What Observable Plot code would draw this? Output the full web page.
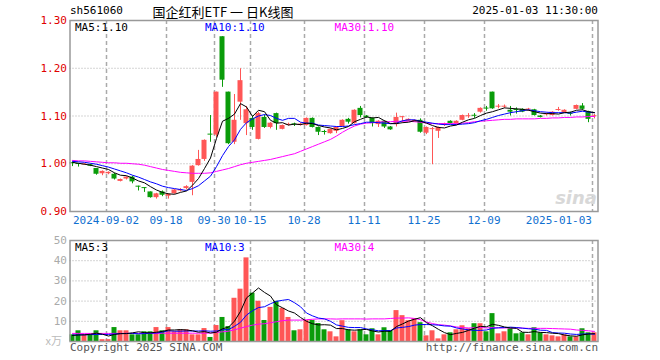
<!DOCTYPE html>
<html><head><meta charset="utf-8">
<script src="https://cdn.jsdelivr.net/npm/d3@7"></script>
<script src="https://cdn.jsdelivr.net/npm/@observablehq/plot@0.6"></script>
<style>
body{margin:0;background:#fff;}
#chart{position:relative;width:660px;height:360px;overflow:hidden;}
#chart svg{position:absolute;left:0;}
</style></head><body><div id="chart"></div>
<script>
// trading days (2024-08-23 .. 2025-01-03)
const dates = ["2024-08-23","2024-08-26","2024-08-27","2024-08-28","2024-08-29","2024-08-30",
"2024-09-02","2024-09-03","2024-09-04","2024-09-05","2024-09-06","2024-09-09","2024-09-10","2024-09-11","2024-09-12","2024-09-13",
"2024-09-18","2024-09-19","2024-09-20","2024-09-23","2024-09-24","2024-09-25","2024-09-26","2024-09-27","2024-09-30",
"2024-10-08","2024-10-09","2024-10-10","2024-10-11","2024-10-14","2024-10-15","2024-10-16","2024-10-17","2024-10-18",
"2024-10-21","2024-10-22","2024-10-23","2024-10-24","2024-10-25","2024-10-28","2024-10-29","2024-10-30","2024-10-31","2024-11-01",
"2024-11-04","2024-11-05","2024-11-06","2024-11-07","2024-11-08","2024-11-11","2024-11-12","2024-11-13","2024-11-14","2024-11-15",
"2024-11-18","2024-11-19","2024-11-20","2024-11-21","2024-11-22","2024-11-25","2024-11-26","2024-11-27","2024-11-28","2024-11-29",
"2024-12-02","2024-12-03","2024-12-04","2024-12-05","2024-12-06","2024-12-09","2024-12-10","2024-12-11","2024-12-12","2024-12-13",
"2024-12-16","2024-12-17","2024-12-18","2024-12-19","2024-12-20","2024-12-23","2024-12-24","2024-12-25","2024-12-26","2024-12-27",
"2024-12-30","2024-12-31","2025-01-02","2025-01-03"];
const tickDates = ["2024-09-02","2024-09-18","2024-09-30","2024-10-15","2024-10-28","2024-11-11","2024-11-25","2024-12-09","2025-01-03"];
const tickLabels = ["2024-09-02","09-18","09-30","10-15","10-28","11-11","11-25","12-09","2025-01-03"];
const priceTicks = [1.30,1.20,1.10,1.00,0.90];
const volTicks = [50,40,30,20,10];

const opens = [1.002,1.000,0.998,0.998,0.990,0.979,0.979,0.978,0.963,0.968,
0.972,0.953,0.950,0.941,0.929,0.941,0.932,0.937,0.943,0.948,
0.961,0.996,1.009,1.062,1.060,1.266,1.150,1.045,1.129,1.084,
1.095,1.051,1.097,1.076,1.105,1.072,1.081,1.083,1.080,1.080,
1.095,1.076,1.067,1.063,1.068,1.078,1.093,1.084,1.116,1.100,
1.095,1.082,1.089,1.077,1.082,1.097,1.089,1.088,1.091,1.064,
1.072,1.068,1.080,1.089,1.084,1.091,1.099,1.101,1.108,1.116,
1.150,1.119,1.119,1.112,1.113,1.114,1.113,1.113,1.100,1.103,
1.101,1.112,1.107,1.105,1.114,1.121,1.109,1.099];
const highs = [1.002,1.000,1.000,0.999,0.990,0.985,0.983,0.980,0.968,0.973,
0.974,0.953,0.950,0.941,0.938,0.943,0.937,0.946,0.948,0.954,
0.996,1.028,1.050,1.101,1.150,1.266,1.150,1.145,1.199,1.120,
1.100,1.108,1.102,1.086,1.106,1.081,1.085,1.085,1.085,1.096,
1.096,1.077,1.070,1.073,1.077,1.092,1.095,1.113,1.120,1.101,
1.096,1.090,1.090,1.078,1.106,1.099,1.094,1.092,1.094,1.077,
1.076,1.077,1.085,1.090,1.090,1.102,1.105,1.105,1.117,1.120,
1.150,1.124,1.123,1.120,1.117,1.115,1.116,1.114,1.101,1.106,
1.109,1.118,1.113,1.108,1.123,1.126,1.110,1.103];
const lows = [0.994,0.993,0.997,0.994,0.976,0.975,0.977,0.966,0.962,0.966,
0.958,0.943,0.940,0.928,0.926,0.931,0.926,0.936,0.941,0.945,
0.933,0.995,1.005,1.045,1.055,1.160,1.040,1.040,1.091,1.059,
1.070,1.050,1.074,1.073,1.070,1.071,1.079,1.078,1.079,1.079,
1.075,1.059,1.060,1.062,1.063,1.077,1.083,1.083,1.096,1.095,
1.077,1.076,1.074,1.070,1.077,1.085,1.088,1.087,1.064,1.061,
0.998,1.053,1.078,1.083,1.083,1.090,1.095,1.095,1.106,1.110,
1.114,1.115,1.116,1.100,1.104,1.107,1.110,1.100,1.096,1.100,
1.100,1.110,1.106,1.100,1.113,1.112,1.086,1.094];
const closes = [1.000,0.999,0.999,0.995,0.978,0.984,0.982,0.968,0.967,0.972,
0.962,0.951,0.948,0.929,0.937,0.934,0.936,0.945,0.946,0.952,
0.995,1.009,1.049,1.060,1.150,1.175,1.042,1.091,1.174,1.113,
1.076,1.105,1.076,1.085,1.084,1.080,1.082,1.082,1.083,1.095,
1.076,1.066,1.066,1.072,1.076,1.091,1.087,1.112,1.101,1.097,
1.084,1.089,1.077,1.071,1.097,1.098,1.093,1.091,1.066,1.076,
1.073,1.076,1.084,1.084,1.089,1.101,1.100,1.100,1.116,1.115,
1.115,1.120,1.120,1.108,1.112,1.108,1.114,1.101,1.097,1.104,
1.108,1.113,1.112,1.104,1.122,1.114,1.093,1.100];
const volumes = [3.3,5.3,3.3,3.3,5.3,0.9,0.9,6.9,5.3,5.3,
3.3,3.3,4.8,4.8,6.9,5.3,6.9,4.8,5.8,5.8,
3.3,3.3,6.4,2.0,7.9,11.9,7.4,21.4,25.9,41.4,
23.9,19.9,10.4,16.9,19.9,16.4,11.9,5.3,5.8,10.4,
10.4,8.9,5.8,4.8,2.3,10.3,5.8,4.8,5.8,3.3,
6.3,3.3,6.8,5.3,15.3,12.8,10.3,11.3,9.3,2.8,
5.3,1.3,3.3,4.3,5.8,7.8,6.3,8.8,8.8,4.8,
13.8,3.8,4.8,6.3,3.8,4.3,3.3,6.8,4.3,3.3,
2.8,2.3,3.3,2.3,2.3,6.3,4.3,4.3];
// moving averages
const ma5 = [1.003,1.001,0.999,0.997,0.994,0.991,0.988,0.981,0.976,0.975,
0.970,0.964,0.960,0.952,0.945,0.940,0.937,0.936,0.940,0.943,
0.955,0.969,0.990,1.012,1.053,1.089,1.095,1.104,1.126,1.119,
1.099,1.112,1.109,1.091,1.085,1.086,1.081,1.083,1.082,1.085,
1.084,1.080,1.077,1.075,1.071,1.074,1.078,1.088,1.093,1.098,
1.096,1.097,1.090,1.084,1.084,1.086,1.087,1.090,1.089,1.085,
1.080,1.076,1.075,1.079,1.081,1.087,1.092,1.095,1.101,1.106,
1.109,1.113,1.117,1.116,1.115,1.114,1.112,1.109,1.106,1.105,
1.105,1.104,1.107,1.108,1.112,1.113,1.109,1.107];
const ma10 = [1.005,1.004,1.003,1.001,0.999,0.996,0.993,0.989,0.985,0.981,
0.976,0.972,0.967,0.962,0.958,0.953,0.950,0.948,0.946,0.944,
0.948,0.954,0.964,0.974,0.994,1.017,1.036,1.050,1.072,1.086,
1.094,1.100,1.103,1.101,1.095,1.091,1.095,1.095,1.087,1.085,
1.085,1.081,1.080,1.079,1.078,1.078,1.079,1.082,1.084,1.087,
1.087,1.086,1.085,1.084,1.085,1.090,1.092,1.092,1.089,1.087,
1.085,1.083,1.082,1.082,1.082,1.083,1.084,1.086,1.090,1.093,
1.097,1.101,1.104,1.107,1.109,1.111,1.113,1.111,1.109,1.108,
1.107,1.107,1.107,1.106,1.108,1.110,1.108,1.107];
const ma30 = [1.007,1.006,1.006,1.005,1.004,1.003,1.002,1.002,1.001,1.001,
1.000,0.999,0.997,0.994,0.991,0.988,0.986,0.984,0.982,0.981,
0.980,0.980,0.980,0.981,0.984,0.987,0.990,0.994,0.998,1.001,
1.003,1.005,1.007,1.009,1.012,1.015,1.018,1.021,1.026,1.031,
1.036,1.041,1.046,1.051,1.058,1.066,1.073,1.079,1.083,1.085,
1.086,1.087,1.088,1.088,1.089,1.089,1.089,1.088,1.087,1.085,
1.084,1.084,1.084,1.084,1.084,1.085,1.086,1.088,1.089,1.090,
1.091,1.092,1.093,1.093,1.094,1.094,1.094,1.094,1.095,1.095,
1.096,1.096,1.097,1.097,1.098,1.098,1.099,1.099];
const vma5 = [3.0,3.2,3.3,3.6,4.1,3.6,2.7,3.5,3.9,3.9,
4.3,4.8,4.4,4.3,4.6,5.0,5.7,5.7,5.9,5.7,
5.3,4.6,4.9,4.2,4.6,6.3,7.1,10.1,14.9,21.6,
24.0,26.5,24.3,22.5,18.2,16.7,15.1,14.1,11.9,10.0,
8.8,8.2,8.3,8.1,6.4,6.4,5.8,5.6,5.8,6.0,
5.2,4.7,5.1,5.0,7.4,8.7,10.1,11.0,11.8,9.3,
7.8,6.0,4.4,3.4,4.0,4.5,5.5,6.6,7.5,7.3,
8.5,8.0,7.2,6.7,6.5,4.6,4.5,4.9,4.5,4.4,
4.1,3.9,3.2,2.8,2.6,3.3,3.7,3.9];
const vma10 = [3.2,3.3,3.3,3.4,3.5,3.5,3.5,3.7,3.9,4.0,
4.0,3.8,3.9,4.1,4.2,4.7,5.3,5.1,5.1,5.2,
5.2,5.2,5.3,5.1,5.2,5.8,5.9,7.5,9.5,13.1,
15.2,16.8,17.2,18.7,19.9,20.4,20.8,19.2,17.2,14.1,
12.7,11.6,11.2,10.0,8.2,7.6,7.0,6.9,6.9,6.2,
5.8,5.3,5.4,5.4,6.7,7.0,7.4,8.1,8.4,8.4,
8.3,8.1,7.7,7.6,6.7,6.2,5.8,5.5,5.5,5.7,
6.5,6.8,6.9,7.1,6.9,6.6,6.3,6.1,5.6,5.5,
4.4,4.2,4.1,3.7,3.5,3.7,3.8,3.6];
const vma30 = [4.0,4.0,4.0,4.0,4.0,4.0,4.0,4.0,4.0,4.0,
4.0,4.0,4.0,4.0,4.0,4.1,4.1,4.1,4.1,4.1,
4.1,4.1,4.1,4.2,4.5,4.8,5.1,5.8,6.6,7.4,
8.1,8.6,8.8,9.3,9.8,10.3,10.6,10.6,10.6,10.8,
11.0,11.2,11.2,11.2,11.1,11.2,11.2,11.2,11.2,11.1,
11.2,11.2,11.2,11.4,11.6,11.6,11.7,11.4,10.8,9.6,
8.9,8.3,8.1,7.7,7.2,6.9,6.7,6.8,6.9,6.7,
6.9,6.7,6.7,6.7,6.8,6.6,6.5,6.5,6.5,6.5,
6.4,6.3,6.2,6.1,5.7,5.5,5.3,5.0];

const RED = "#ff5656", GREEN = "#0a9c0a";
const MONO = "'DejaVu Sans Mono', 'Liberation Mono', monospace";
const W = 660, ML = 69.5, MR = 62.5;
const N = dates.length;
const C = 2.5/6; // candle centre offset inside a slot

const data = dates.map((d, i) => {
  const o = opens[i], c = closes[i];
  let top = Math.max(o, c), bot = Math.min(o, c);
  if (top - bot < 0.0021) { const m = (top + bot) / 2; top = m + 0.00105; bot = m - 0.00105; }
  return {i, date: d, o, h: highs[i], l: lows[i], c, v: volumes[i], up: c >= o, top, bot,
    ma5: ma5[i], ma10: ma10[i], ma30: ma30[i], vma5: vma5[i], vma10: vma10[i], vma30: vma30[i]};
});
const ticks = tickDates.map((d, k) => ({i: dates.indexOf(d), label: tickLabels[k]}));
const midTicks = ticks.slice(0, -1), lastTick = ticks.slice(-1);
const col = d => d.up ? RED : GREEN;
const xOpt = {type: "linear", domain: [0, N], axis: null};

const price = Plot.plot({
  width: W, height: 230, marginTop: 20, marginBottom: 19, marginLeft: ML, marginRight: MR,
  style: {fontFamily: MONO, fontSize: "10px", background: "transparent", overflow: "visible"},
  x: xOpt,
  y: {domain: [0.9, 1.3], axis: null},
  marks: [
    Plot.ruleY([1.0, 1.1, 1.2], {stroke: "#aaa", strokeDasharray: "1,2"}),
    Plot.ruleX(ticks, {x: d => d.i + 0.5/6, stroke: "#aaa", strokeDasharray: "4,3", strokeWidth: 1.5}),
    Plot.text(["sina"], {frameAnchor: "bottom-right", dx: -1, dy: -8, fill: "#d8d8d8", fontSize: 18, fontWeight: "bold", fontStyle: "italic", fontFamily: "'DejaVu Sans', sans-serif"}),
    Plot.ruleX(data, {x: d => d.i + C, y1: "l", y2: "h", stroke: col}),
    Plot.rect(data, {x1: "i", x2: d => d.i + 1, y1: "bot", y2: "top", fill: col, insetRight: 1}),
    Plot.line(data, {x: d => d.i + C, y: "ma30", stroke: "#ff00ff", strokeWidth: 1}),
    Plot.line(data, {x: d => d.i + C, y: "ma10", stroke: "#0000ff", strokeWidth: 1}),
    Plot.line(data, {x: d => d.i + C, y: "ma5", stroke: "#000", strokeWidth: 1}),
    Plot.frame({stroke: "#999", strokeWidth: 1.5}),
    Plot.text(priceTicks, {x: 0, y: d => d, text: d => d.toFixed(2), textAnchor: "end", dx: -3, fill: "#e00000", fontSize: 11}),
    Plot.text(midTicks, {x: "i", y: 0.9, text: "label", textAnchor: "middle", dy: 9, fill: "#1070d0", fontSize: 11}),
    Plot.text(lastTick, {x: "i", y: 0.9, text: "label", textAnchor: "end", dy: 9, fill: "#1070d0", fontSize: 11}),
    Plot.text(["MA5:1.10"], {frameAnchor: "top-left", dx: 5, dy: 3, fill: "#000", fontSize: 11}),
    Plot.text(["MA10:1.10"], {x: 22.5, frameAnchor: "top", textAnchor: "start", dy: 3, fill: "#0000ff", fontSize: 11}),
    Plot.text(["MA30:1.10"], {x: 44.1, frameAnchor: "top", textAnchor: "start", dy: 3, fill: "#ff00ff", fontSize: 11}),
    Plot.text(["sh561060"], {frameAnchor: "top-left", dy: -14, fill: "#000", fontSize: 11}),
    Plot.text(["2025-01-03 11:30:00"], {frameAnchor: "top-right", dy: -14, fill: "#000", fontSize: 11}),
    Plot.text(["国企红利ETF 一 日K线图"], {x: 25.5, frameAnchor: "top", dy: -13, fill: "#000", fontSize: 13, fontFamily: "'Noto Sans CJK SC', sans-serif"})
  ]
});

const vol = Plot.plot({
  width: W, height: 130, marginTop: 10, marginBottom: 19, marginLeft: ML, marginRight: MR,
  style: {fontFamily: MONO, fontSize: "10px", background: "transparent", overflow: "visible"},
  x: xOpt,
  y: {domain: [0, 50], axis: null},
  marks: [
    Plot.ruleY([10, 20, 30, 40], {stroke: "#aaa", strokeDasharray: "1,2"}),
    Plot.ruleX(ticks, {x: d => d.i + 0.5/6, stroke: "#aaa", strokeDasharray: "4,3", strokeWidth: 1.5}),
    Plot.rectY(data, {x1: "i", x2: d => d.i + 1, y: "v", fill: col, insetRight: 1}),
    Plot.line(data, {x: d => d.i + C, y: "vma30", stroke: "#ff00ff", strokeWidth: 1}),
    Plot.line(data, {x: d => d.i + C, y: "vma10", stroke: "#0000ff", strokeWidth: 1}),
    Plot.line(data, {x: d => d.i + C, y: "vma5", stroke: "#000", strokeWidth: 1}),
    Plot.frame({stroke: "#999", strokeWidth: 1.5}),
    Plot.text(volTicks, {x: 0, y: d => d, text: d => String(d), textAnchor: "end", dx: -3, fill: "#aaa", fontSize: 11}),
    Plot.text(["x万"], {x: 0, y: 0, textAnchor: "end", dx: -8, fill: "#bbb", fontSize: 11, fontFamily: "'Noto Sans CJK SC', sans-serif"}),
    Plot.text(["MA5:3"], {frameAnchor: "top-left", dx: 5, dy: 3, fill: "#000", fontSize: 11}),
    Plot.text(["MA10:3"], {x: 22.5, frameAnchor: "top", textAnchor: "start", dy: 3, fill: "#0000ff", fontSize: 11}),
    Plot.text(["MA30:4"], {x: 44.1, frameAnchor: "top", textAnchor: "start", dy: 3, fill: "#ff00ff", fontSize: 11}),
    Plot.text(["Copyright 2025 SINA.COM"], {frameAnchor: "bottom-left", dy: 9, fill: "#555", fontSize: 11}),
    Plot.text(["http://finance.sina.com.cn"], {frameAnchor: "bottom-right", dy: 9, fill: "#555", fontSize: 11})
  ]
});

const host = document.getElementById("chart");
price.style.top = "0px";
vol.style.top = "230px";
host.appendChild(price);
host.appendChild(vol);
</script>
</body></html>
